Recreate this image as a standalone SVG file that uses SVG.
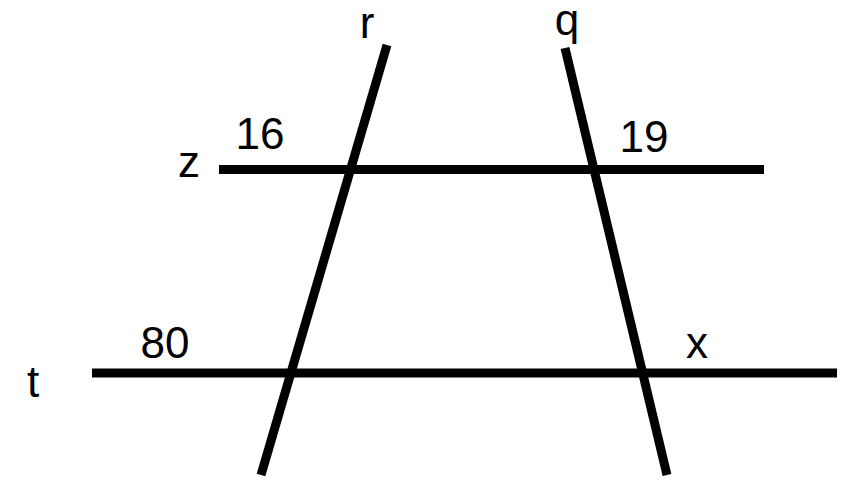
<svg xmlns="http://www.w3.org/2000/svg" width="852" height="490" viewBox="0 0 852 490">
<style>
.ln{stroke:#000;stroke-width:9;fill:none}
.lb{font-family:"Liberation Sans",Arial,sans-serif;font-size:44px;fill:#000;text-anchor:middle}
</style>
<rect width="852" height="490" fill="#fff"/>
<g id="lines">
<line id="line-z" class="ln" x1="219" y1="169.5" x2="764" y2="169.5"/>
<line id="line-t" class="ln" x1="92" y1="373" x2="837" y2="373"/>
<line id="line-r" class="ln" x1="387" y1="45" x2="261" y2="475"/>
<line id="line-q" class="ln" x1="565" y1="48" x2="667" y2="475"/>
</g>
<g id="labels">
<text class="lb" x="367" y="38">r</text>
<text class="lb" x="567" y="35">q</text>
<text class="lb" x="189" y="177">z</text>
<text class="lb" x="33" y="397">t</text>
<text class="lb" x="260" y="149">16</text>
<text class="lb" x="644" y="152">19</text>
<text class="lb" x="165" y="358">80</text>
<text class="lb" x="697" y="358">x</text>
</g>
</svg>
